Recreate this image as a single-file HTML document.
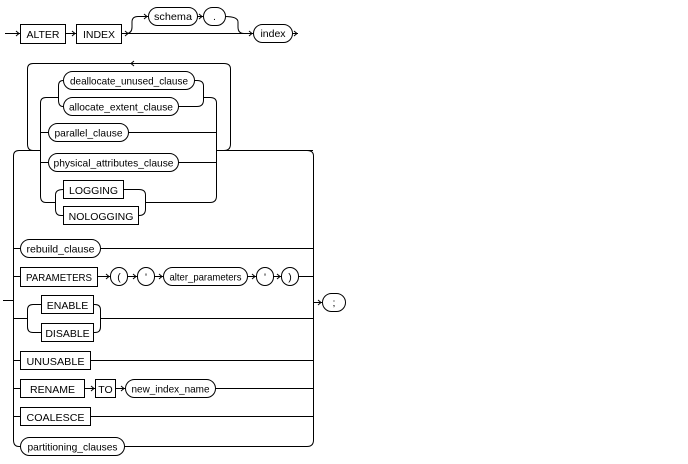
<!DOCTYPE html>
<html><head><meta charset="utf-8"><style>
html,body{margin:0;padding:0;background:#fff;}
svg{display:block;}
text{font-family:"Liberation Sans",Arial,sans-serif;font-size:10.5px;fill:#000;}
</style></head><body>
<svg width="688" height="464" viewBox="0 0 688 464" xmlns="http://www.w3.org/2000/svg">
<g fill="none" stroke="#000" stroke-width="1">
<!-- row 1 -->
<path d="M5,33.5H20 M66,33.5H76 M122,33.5H253 M292,33.5H298"/>
<path d="M126,33.5Q132,33.5 132,27V22Q132,16.5 138,16.5H148 M197,16.5H203 M225,16.5Q238,16.5 238,22V27Q238,33.5 244,33.5"/>
<rect x="20.5" y="24.5" width="45" height="19"/>
<rect x="76.5" y="24.5" width="45" height="19"/>
<rect x="148.5" y="7.5" width="49" height="18" rx="9"/>
<rect x="203.5" y="7.5" width="22" height="18" rx="9"/>
<rect x="253.5" y="24.5" width="39" height="18" rx="9"/>
<!-- loop -->
<path d="M40,150.5H33Q27.5,150.5 27.5,144V69Q27.5,63.5 33,63.5H224Q230.5,63.5 230.5,69V144Q230.5,150.5 224,150.5"/>
<path d="M19,150.5H40 M216,150.5H313"/>
<path d="M58,97.5H46Q40.5,97.5 40.5,103V196Q40.5,202.5 46,202.5H55"/>
<path d="M203,97.5H210Q216.5,97.5 216.5,103V196Q216.5,202.5 210,202.5H145"/>
<path d="M63,80.5Q58.5,80.5 58.5,86V100Q58.5,106.5 63,106.5"/>
<path d="M194,80.5H197Q203.5,80.5 203.5,86V100Q203.5,106.5 197,106.5H178"/>
<rect x="63.5" y="71.5" width="131" height="18" rx="9"/>
<rect x="63.5" y="97.5" width="115" height="18" rx="9"/>
<path d="M40,132.5H48 M128,132.5H216"/>
<rect x="48.5" y="123.5" width="80" height="18" rx="9"/>
<path d="M40,162.5H48 M178,162.5H216"/>
<rect x="48.5" y="153.5" width="130" height="18" rx="9"/>
<path d="M63,189.5Q55.5,189.5 55.5,195V209Q55.5,215.5 61,215.5H63"/>
<path d="M123,189.5H139Q145.5,189.5 145.5,195V209Q145.5,215.5 139,215.5H138"/>
<rect x="63.5" y="180.5" width="60" height="18"/>
<rect x="63.5" y="206.5" width="75" height="18"/>
<!-- big rails -->
<path d="M3,300.5H13.5"/>
<path d="M19,150.5Q13.5,150.5 13.5,156V440Q13.5,446.5 19,446.5H20"/>
<path d="M307,150.5Q313.5,150.5 313.5,156V440Q313.5,446.5 307,446.5H124"/>
<path d="M313,302.5H322"/>
<rect x="322.5" y="293.5" width="23" height="18" rx="9"/>
<!-- rows -->
<path d="M13,248.5H20 M100,248.5H313"/>
<rect x="20.5" y="239.5" width="80" height="18" rx="9"/>
<path d="M13,276.5H20 M97,276.5H110 M127,276.5H137 M154,276.5H163 M247,276.5H256 M273,276.5H281 M298,276.5H313"/>
<rect x="20.5" y="267.5" width="77" height="19"/>
<rect x="110.5" y="267.5" width="17" height="18" rx="8.5"/>
<rect x="137.5" y="267.5" width="17" height="18" rx="8.5"/>
<rect x="163.5" y="267.5" width="84" height="18" rx="9"/>
<rect x="256.5" y="267.5" width="17" height="18" rx="8.5"/>
<rect x="281.5" y="267.5" width="17" height="18" rx="8.5"/>
<path d="M13,318.5H27 M100,318.5H313"/>
<path d="M41,304.5H33Q27.5,304.5 27.5,310V327Q27.5,332.5 33,332.5H41"/>
<path d="M93,304.5H95Q100.5,304.5 100.5,310V327Q100.5,332.5 95,332.5H93"/>
<rect x="41.5" y="295.5" width="52" height="18"/>
<rect x="41.5" y="323.5" width="52" height="18"/>
<path d="M13,360.5H20 M90,360.5H313"/>
<rect x="20.5" y="351.5" width="70" height="18"/>
<path d="M13,388.5H20 M84,388.5H95 M115,388.5H125 M215,388.5H313"/>
<rect x="20.5" y="379.5" width="64" height="18"/>
<rect x="95.5" y="379.5" width="20" height="18"/>
<rect x="125.5" y="379.5" width="90" height="18" rx="9"/>
<path d="M13,416.5H20 M90,416.5H313"/>
<rect x="20.5" y="407.5" width="70" height="18"/>
<rect x="20.5" y="437.5" width="104" height="18" rx="9"/>
<!-- arrowheads -->
<path d="M16,31l3,2.5l-3,2.5 M72,31l3,2.5l-3,2.5 M125,31l3,2.5l-3,2.5 M144,14l3,2.5l-3,2.5 M199,14l3,2.5l-3,2.5 M249,31l3,2.5l-3,2.5 M294,31l3,2.5l-3,2.5 M134,61l-3,2.5l3,2.5 M106,274l3,2.5l-3,2.5 M133,274l3,2.5l-3,2.5 M159,274l3,2.5l-3,2.5 M252,274l3,2.5l-3,2.5 M277,274l3,2.5l-3,2.5 M91,386l3,2.5l-3,2.5 M121,386l3,2.5l-3,2.5 M318,300l3,2.5l-3,2.5"/>
</g>
<g text-anchor="middle">
<text x="43" y="38">ALTER</text>
<text x="99" y="38">INDEX</text>
<text x="173" y="20" textLength="38" lengthAdjust="spacingAndGlyphs">schema</text>
<text x="214.5" y="20">.</text>
<text x="273" y="37">index</text>
<text x="129" y="84.5" textLength="118" lengthAdjust="spacingAndGlyphs">deallocate_unused_clause</text>
<text x="121" y="110.5" textLength="104" lengthAdjust="spacingAndGlyphs">allocate_extent_clause</text>
<text x="88.5" y="136.5" textLength="68" lengthAdjust="spacingAndGlyphs">parallel_clause</text>
<text x="113.5" y="166.5" textLength="120" lengthAdjust="spacingAndGlyphs">physical_attributes_clause</text>
<text x="93.5" y="194">LOGGING</text>
<text x="101" y="220">NOLOGGING</text>
<text x="60.5" y="252.5" textLength="68" lengthAdjust="spacingAndGlyphs">rebuild_clause</text>
<text x="59" y="281" textLength="66" lengthAdjust="spacingAndGlyphs">PARAMETERS</text>
<text x="119" y="280.5">(</text>
<text x="146" y="280.5">'</text>
<text x="205.5" y="280.5" textLength="72" lengthAdjust="spacingAndGlyphs">alter_parameters</text>
<text x="265" y="280.5">'</text>
<text x="290" y="280.5">)</text>
<text x="67.5" y="309">ENABLE</text>
<text x="67.5" y="337">DISABLE</text>
<text x="55.5" y="365" textLength="58" lengthAdjust="spacingAndGlyphs">UNUSABLE</text>
<text x="52.5" y="393">RENAME</text>
<text x="105.5" y="393">TO</text>
<text x="170.5" y="392.5" textLength="78" lengthAdjust="spacingAndGlyphs">new_index_name</text>
<text x="55.5" y="421" textLength="58" lengthAdjust="spacingAndGlyphs">COALESCE</text>
<text x="72.5" y="450.5" textLength="90" lengthAdjust="spacingAndGlyphs">partitioning_clauses</text>
<text x="334" y="306">;</text>
</g>
</svg>
</body></html>
